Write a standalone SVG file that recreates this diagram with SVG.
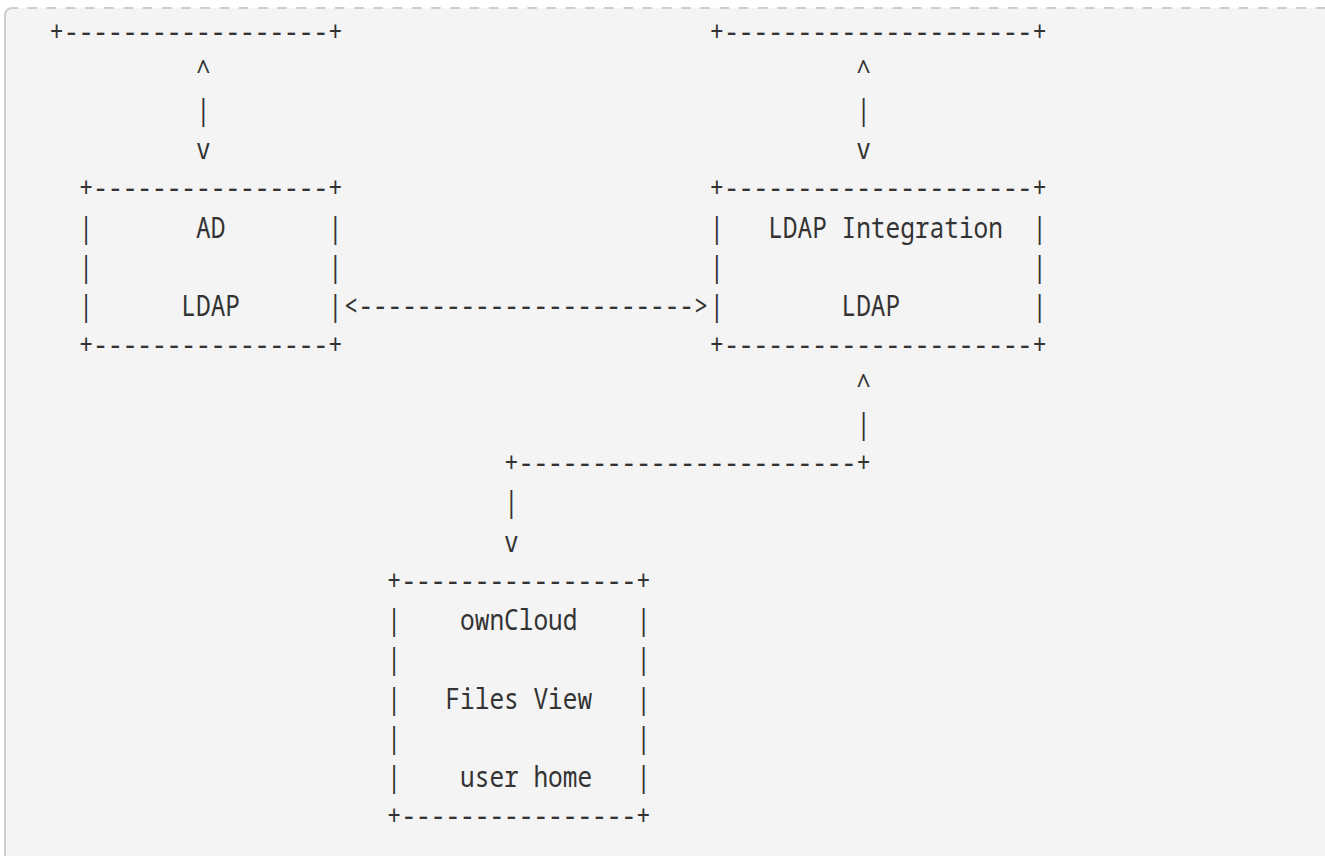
<svg xmlns="http://www.w3.org/2000/svg" width="1325" height="856" viewBox="0 0 1325 856">
<style>
.t{font-family:"Noto Sans Mono","DejaVu Sans Mono","Liberation Mono",monospace;font-size:24.45px;fill:#333333;}
.a{font-size:24.3px;}
.bg{fill:#f4f4f4;}
.bl{fill:none;stroke:#cdcdcd;stroke-width:2;}
.bd{fill:none;stroke:#cdcdcd;stroke-width:2;stroke-dasharray:9.6 9.63;}
</style>
<rect x="0" y="0" width="1325" height="856" fill="#ffffff"/>
<path class="bg" d="M5,856 V16 Q5,8 13,8 H1325 V856 Z"/>
<path class="bl" d="M5,856 V16 Q5,8 13,8 H18"/>
<line class="bd" x1="27.3" y1="8" x2="1325" y2="8"/>

<g id="node-top-left" transform="scale(1,1.19)">
<text class="t" x="49.35" y="35.126" textLength="293.4" lengthAdjust="spacingAndGlyphs">+------------------+</text>
</g>
<g id="node-top-right" transform="scale(1,1.19)">
<text class="t" x="709.5" y="35.126" textLength="337.41" lengthAdjust="spacingAndGlyphs">+---------------------+</text>
</g>

<g id="node-ad" transform="scale(1,1.19)">
<text class="t" x="78.69" y="166.639" textLength="264.06" lengthAdjust="spacingAndGlyphs">+----------------+</text>
<text class="t" x="78.69" y="199.622" textLength="14.67" lengthAdjust="spacingAndGlyphs">|</text>
<text class="t" x="196.05" y="199.622" textLength="29.34" lengthAdjust="spacingAndGlyphs">AD</text>
<text class="t" x="328.08" y="199.622" textLength="14.67" lengthAdjust="spacingAndGlyphs">|</text>
<text class="t" x="78.69" y="232.605" textLength="14.67" lengthAdjust="spacingAndGlyphs">|</text>
<text class="t" x="328.08" y="232.605" textLength="14.67" lengthAdjust="spacingAndGlyphs">|</text>
<text class="t" x="78.69" y="265.588" textLength="14.67" lengthAdjust="spacingAndGlyphs">|</text>
<text class="t" x="181.38" y="265.588" textLength="58.68" lengthAdjust="spacingAndGlyphs">LDAP</text>
<text class="t" x="328.08" y="265.588" textLength="14.67" lengthAdjust="spacingAndGlyphs">|</text>
<text class="t" x="78.69" y="298.571" textLength="264.06" lengthAdjust="spacingAndGlyphs">+----------------+</text>
</g>

<g id="node-ldap-integration" transform="scale(1,1.19)">
<text class="t" x="709.5" y="166.639" textLength="337.41" lengthAdjust="spacingAndGlyphs">+---------------------+</text>
<text class="t" x="709.5" y="199.622" textLength="14.67" lengthAdjust="spacingAndGlyphs">|</text>
<text class="t" x="768.18" y="199.622" textLength="234.72" lengthAdjust="spacingAndGlyphs">LDAP Integration</text>
<text class="t" x="1032.24" y="199.622" textLength="14.67" lengthAdjust="spacingAndGlyphs">|</text>
<text class="t" x="709.5" y="232.605" textLength="14.67" lengthAdjust="spacingAndGlyphs">|</text>
<text class="t" x="1032.24" y="232.605" textLength="14.67" lengthAdjust="spacingAndGlyphs">|</text>
<text class="t" x="709.5" y="265.588" textLength="14.67" lengthAdjust="spacingAndGlyphs">|</text>
<text class="t" x="841.53" y="265.588" textLength="58.68" lengthAdjust="spacingAndGlyphs">LDAP</text>
<text class="t" x="1032.24" y="265.588" textLength="14.67" lengthAdjust="spacingAndGlyphs">|</text>
<text class="t" x="709.5" y="298.571" textLength="337.41" lengthAdjust="spacingAndGlyphs">+---------------------+</text>
</g>

<g id="node-owncloud" transform="scale(1,1.19)">
<text class="t" x="386.76" y="496.471" textLength="264.06" lengthAdjust="spacingAndGlyphs">+----------------+</text>
<text class="t" x="386.76" y="529.454" textLength="14.67" lengthAdjust="spacingAndGlyphs">|</text>
<text class="t" x="460.11" y="529.454" textLength="117.36" lengthAdjust="spacingAndGlyphs">ownCloud</text>
<text class="t" x="636.15" y="529.454" textLength="14.67" lengthAdjust="spacingAndGlyphs">|</text>
<text class="t" x="386.76" y="562.437" textLength="14.67" lengthAdjust="spacingAndGlyphs">|</text>
<text class="t" x="636.15" y="562.437" textLength="14.67" lengthAdjust="spacingAndGlyphs">|</text>
<text class="t" x="386.76" y="595.42" textLength="14.67" lengthAdjust="spacingAndGlyphs">|</text>
<text class="t" x="445.44" y="595.42" textLength="146.7" lengthAdjust="spacingAndGlyphs">Files View</text>
<text class="t" x="636.15" y="595.42" textLength="14.67" lengthAdjust="spacingAndGlyphs">|</text>
<text class="t" x="386.76" y="628.403" textLength="14.67" lengthAdjust="spacingAndGlyphs">|</text>
<text class="t" x="636.15" y="628.403" textLength="14.67" lengthAdjust="spacingAndGlyphs">|</text>
<text class="t" x="386.76" y="661.387" textLength="14.67" lengthAdjust="spacingAndGlyphs">|</text>
<text class="t" x="460.11" y="661.387" textLength="132.03" lengthAdjust="spacingAndGlyphs">user home</text>
<text class="t" x="636.15" y="661.387" textLength="14.67" lengthAdjust="spacingAndGlyphs">|</text>
<text class="t" x="386.76" y="694.37" textLength="264.06" lengthAdjust="spacingAndGlyphs">+----------------+</text>
</g>

<g id="connectors" transform="scale(1,1.19)">
<text class="t" x="196.05" y="67.689" textLength="14.67" lengthAdjust="spacingAndGlyphs">^</text>
<text class="t" x="196.05" y="100.672" textLength="14.67" lengthAdjust="spacingAndGlyphs">|</text>
<text class="t" x="196.05" y="133.655" textLength="14.67" lengthAdjust="spacingAndGlyphs">v</text>
<text class="t" x="856.2" y="67.689" textLength="14.67" lengthAdjust="spacingAndGlyphs">^</text>
<text class="t" x="856.2" y="100.672" textLength="14.67" lengthAdjust="spacingAndGlyphs">|</text>
<text class="t" x="856.2" y="133.655" textLength="14.67" lengthAdjust="spacingAndGlyphs">v</text>
<text class="t a" x="343.88" y="265.588" textLength="364.5" lengthAdjust="spacingAndGlyphs">&lt;-----------------------&gt;</text>
<text class="t" x="856.2" y="331.555" textLength="14.67" lengthAdjust="spacingAndGlyphs">^</text>
<text class="t" x="856.2" y="364.538" textLength="14.67" lengthAdjust="spacingAndGlyphs">|</text>
<text class="t" x="504.12" y="397.521" textLength="366.75" lengthAdjust="spacingAndGlyphs">+-----------------------+</text>
<text class="t" x="504.12" y="430.504" textLength="14.67" lengthAdjust="spacingAndGlyphs">|</text>
<text class="t" x="504.12" y="463.487" textLength="14.67" lengthAdjust="spacingAndGlyphs">v</text>
</g>
</svg>
